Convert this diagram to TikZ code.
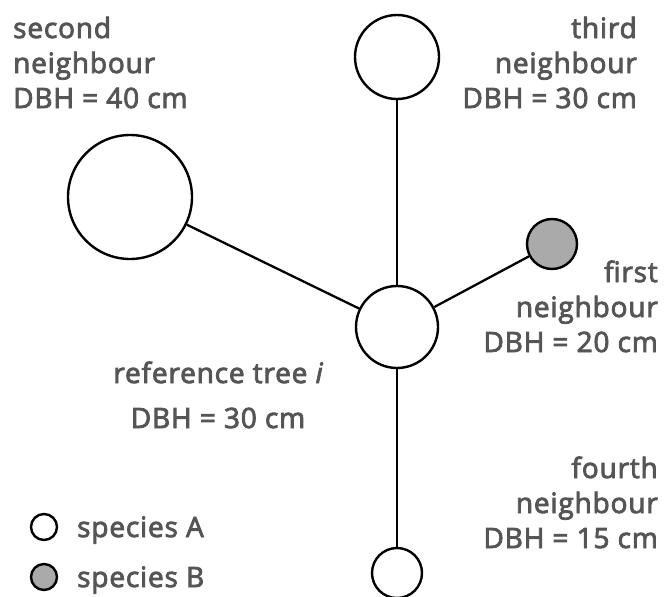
\documentclass[tikz,border=0pt]{standalone}
\usepackage{fontspec}
\setmainfont{Open Sans}
\newfontfamily\lblfont{Open Sans}[FakeBold=3, LetterSpace=3]
\newfontfamily\lblfontit{Open Sans Italic}[FakeBold=3]
\definecolor{txt}{HTML}{555555}
\definecolor{spB}{HTML}{AAAAAA}
\tikzset{
  tree/.style={circle, draw=black, line width=2.4pt, fill=white, inner sep=0pt, minimum size=#1},
  link/.style={line width=2.3pt, draw=black},
  lbl/.style={text=txt, inner sep=0pt, font=\lblfont\fontsize{28}{35}\selectfont},
}
\begin{document}
\begin{tikzpicture}[x=1pt,y=-1pt]
\useasboundingbox (0,0) rectangle (665,597);
% trees
\node[tree=82pt] (ref) at (397,327) {};
\node[tree=50pt, fill=spB] (n1) at (552,244) {};
\node[tree=124pt] (n2) at (130,197) {};
\node[tree=84pt] (n3) at (397,57) {};
\node[tree=50pt] (n4) at (397,573) {};
% connectors
\draw[link] (ref) -- (n1);
\draw[link] (ref) -- (n2);
\draw[link] (ref) -- (n3);
\draw[link] (ref) -- (n4);
% labels
\node[lbl, align=left, anchor=base west] (l2) at (13,108) {second\\neighbour\\DBH = 40 cm};
\node[lbl, align=right, anchor=base east] (l3) at (637,108) {third\\neighbour\\DBH = 30 cm};
\node[lbl, align=right, anchor=base east] (l1) at (658,352) {first\\neighbour\\DBH = 20 cm};
\node[lbl, align=center, anchor=base, font=\lblfont\fontsize{28}{45}\selectfont] (lr) at (218,428) {reference tree {\lblfontit i}\\DBH = 30 cm};
\node[lbl, align=right, anchor=base east] (l4) at (658,548) {fourth\\neighbour\\DBH = 15 cm};
% legend
\node[tree=26pt] (la) at (44,527) {};
\node[tree=26pt, fill=spB] (lb) at (44,577) {};
\node[lbl, anchor=base west] (ta) at (77,537) {species A};
\node[lbl, anchor=base west] (tb) at (77,587) {species B};
\end{tikzpicture}
\end{document}
